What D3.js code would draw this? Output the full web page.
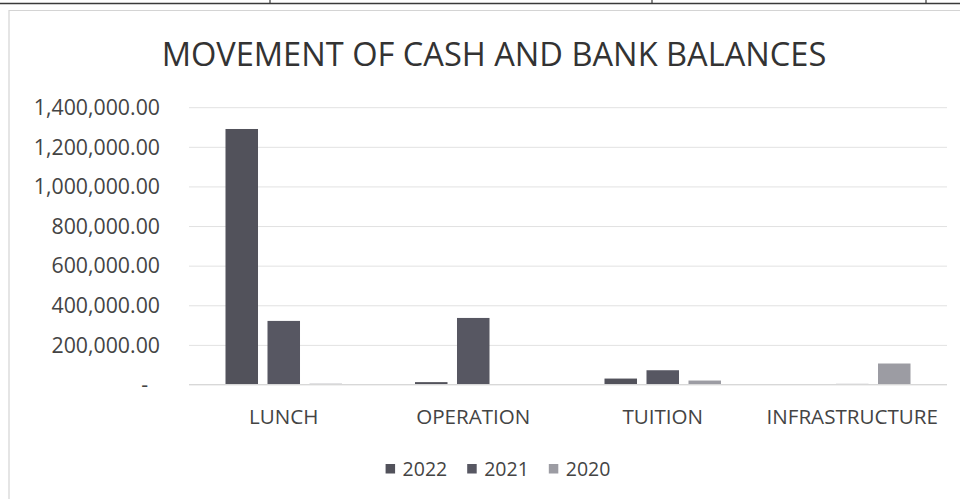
<!DOCTYPE html>
<html>
<head>
<meta charset="utf-8">
<script src="https://cdn.jsdelivr.net/npm/d3@7"></script>
<style>
  html, body { margin: 0; padding: 0; background: #fff; }
  svg { display: block; }
  text { font-family: "Open Sans", sans-serif; }
</style>
</head>
<body>
<svg id="chart" width="960" height="499"></svg>
<script>
// Cash and bank balances per fund, by year
const categories = ["LUNCH", "OPERATION", "TUITION", "INFRASTRUCTURE"];
const seriesNames = ["2022", "2021", "2020"];
const values2022 = [1290000, 12000, 30000, 0];
const values2021 = [321000, 336000, 72000, 3000];
const values2020 = [4000, 1500, 20000, 106000];
const tickValues = [0, 200000, 400000, 600000, 800000, 1000000, 1200000, 1400000];
const tickLabels = ["-", "200,000.00", "400,000.00", "600,000.00", "800,000.00",
                    "1,000,000.00", "1,200,000.00", "1,400,000.00"];
const seriesColors = ["#52525b", "#575762", "#9c9ca3"];

const seriesValues = [values2022, values2021, values2020];
const rows = categories.map((c, i) => ({
  category: c,
  bars: seriesNames.map((s, j) => ({ series: s, value: seriesValues[j][i], color: seriesColors[j] }))
}));

const svg = d3.select("#chart");
const plot = { left: 189, right: 947, top: 107.2, bottom: 384.5 };

// page rule of the table above and the chart frame
svg.append("line").attr("x1", 0).attr("x2", 960).attr("y1", 3.5).attr("y2", 3.5)
  .attr("stroke", "#3a3a3a").attr("stroke-width", 1.6);
[270, 652, 926].forEach(x => {
  svg.append("line").attr("x1", x).attr("x2", x).attr("y1", 0).attr("y2", 4)
    .attr("stroke", "#3a3a3a").attr("stroke-width", 1.2);
});
svg.append("path").attr("d", "M9,499 V10.5 H960")
  .attr("fill", "none").attr("stroke", "#d4d4d4").attr("stroke-width", 1.2);

// scales
const x0 = d3.scaleBand().domain(categories).range([plot.left, plot.right]).padding(0);
const x1 = d3.scaleBand().domain(seriesNames).range([0, x0.bandwidth()])
  .paddingInner(0.226).paddingOuter(0.869);
const y = d3.scaleLinear().domain([0, 1400000]).range([plot.bottom, plot.top]);

// title
svg.append("text")
  .attr("x", 494).attr("y", 66)
  .attr("text-anchor", "middle")
  .attr("font-size", 32.6)
  .attr("fill", "#333")
  .text("MOVEMENT OF CASH AND BANK BALANCES");

// gridlines
const yGrid = d3.axisLeft(y).tickValues(tickValues).tickSize(-(plot.right - plot.left)).tickFormat("");
const grid = svg.append("g").attr("transform", `translate(${plot.left},0)`).call(yGrid);
grid.select(".domain").remove();
grid.selectAll(".tick line").attr("stroke", "#e2e2e2").attr("stroke-width", 1);

// y axis labels
const yAxis = d3.axisLeft(y).tickValues(tickValues).tickSize(0)
  .tickFormat((d, i) => tickLabels[i]);
const ya = svg.append("g").attr("transform", "translate(160,0)").call(yAxis);
ya.select(".domain").remove();
ya.selectAll(".tick text")
  .attr("font-family", "'Open Sans', sans-serif")
  .attr("font-size", 21.3)
  .attr("fill", "#444")
  .attr("x", (d, i) => tickLabels[i] === "-" ? -12 : 0)
  .attr("dy", "0.34em");

// bars
const groups = svg.append("g").selectAll("g").data(rows).join("g")
  .attr("transform", d => `translate(${x0(d.category)},0)`);
groups.selectAll("rect").data(d => d.bars).join("rect")
  .attr("x", d => x1(d.series))
  .attr("width", x1.bandwidth())
  .attr("y", d => y(d.value))
  .attr("height", d => y(0) - y(d.value))
  .attr("fill", d => d.color);

// baseline
svg.append("line").attr("x1", plot.left).attr("x2", plot.right)
  .attr("y1", y(0)).attr("y2", y(0)).attr("stroke", "#d8d8d8").attr("stroke-width", 1);

// category axis
const xAxis = d3.axisBottom(x0).tickSize(0).tickPadding(0);
const xa = svg.append("g").attr("transform", `translate(0,${plot.bottom})`).call(xAxis);
xa.select(".domain").remove();
xa.selectAll(".tick text")
  .attr("font-family", "'Open Sans', sans-serif")
  .attr("font-size", 20.6)
  .attr("fill", "#444")
  .attr("y", 39.5)
  .attr("dy", 0);

// legend
const legend = svg.append("g");
let lx = 0;
seriesNames.forEach((s, i) => {
  const g = legend.append("g").attr("transform", `translate(${lx},0)`);
  g.append("rect").attr("x", 0).attr("y", -11.5).attr("width", 9.5).attr("height", 9.5)
    .attr("fill", seriesColors[i]);
  const t = g.append("text").attr("x", 17).attr("y", 0)
    .attr("font-size", 19.5).attr("fill", "#444").text(s);
  lx += 17 + t.node().getComputedTextLength() + 20;
});
const legendWidth = lx - 20;
legend.attr("transform", `translate(${498 - legendWidth / 2},475.5)`);
</script>
</body>
</html>
